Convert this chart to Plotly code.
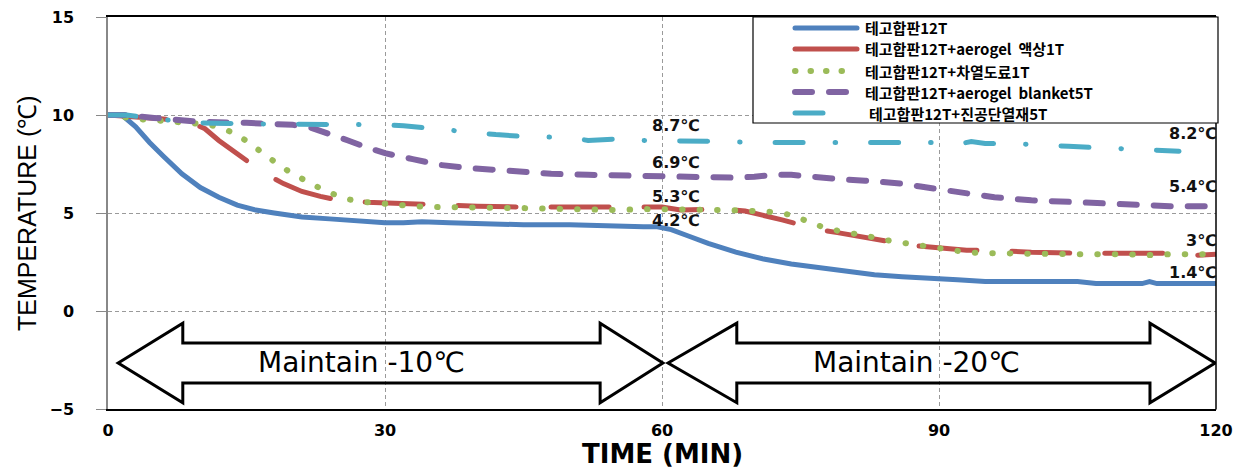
import plotly.graph_objects as go

# ---------------- data ----------------
series_names = [
    "테고합판12T",
    "테고합판12T+aerogel  액상1T",
    "테고합판12T+차열도료1T",
    "테고합판12T+aerogel  blanket5T",
    "테고합판12T+진공단열재5T",
]

t_blue = [0, 1.5, 3, 4.5, 6, 8, 10, 12, 14, 16, 18, 21, 24, 27, 30, 32, 34, 37, 40, 45, 50, 55, 58,
          59.5, 61, 63, 65, 68, 71, 74, 77, 80, 83, 86, 89, 92, 95, 100, 105, 107, 112, 112.8, 113.6, 116, 120]
T_blue = [10, 10, 9.4, 8.6, 7.9, 7.0, 6.3, 5.8, 5.4, 5.15, 5.0, 4.8, 4.7, 4.6, 4.5, 4.5, 4.55, 4.5, 4.45,
          4.4, 4.4, 4.3, 4.3, 4.3, 4.15, 3.8, 3.45, 3.0, 2.65, 2.4, 2.2, 2.0, 1.85, 1.75, 1.7, 1.6, 1.5,
          1.5, 1.5, 1.4, 1.4, 1.5, 1.4, 1.4, 1.4]

t_red = [0, 3, 6, 9, 10.5, 12, 14, 15.5, 17, 19, 21, 23, 25, 28, 31, 35, 40, 45, 50, 55, 58, 60, 62, 65,
         67, 69, 71, 73, 75, 77, 79, 81, 83, 85, 87, 89, 91, 93, 96, 100, 105, 110, 115, 118, 120]
T_red = [10, 9.9, 9.8, 9.6, 9.3, 8.7, 8.0, 7.5, 7.0, 6.5, 6.1, 5.85, 5.65, 5.55, 5.5, 5.4, 5.35, 5.3,
         5.3, 5.25, 5.3, 5.3, 5.15, 5.15, 5.2, 5.1, 4.9, 4.65, 4.4, 4.15, 4.0, 3.85, 3.7, 3.55, 3.35,
         3.27, 3.2, 3.1, 3.1, 3.0, 2.95, 2.95, 2.95, 2.85, 2.9]

t_green = [0, 3, 6, 9, 11, 12.5, 14, 15.5, 17, 18.5, 20, 21.5, 23, 24.5, 26, 28, 30, 33, 36, 40, 45,
           50, 55, 58, 61, 64, 67, 70, 72, 74, 75.5, 77, 79, 81, 83, 85, 87, 89, 91, 93, 95, 100, 105,
           110, 113, 115, 120]
T_green = [10, 9.8, 9.7, 9.6, 9.5, 9.3, 9.0, 8.5, 7.95, 7.45, 7.0, 6.6, 6.25, 5.95, 5.7, 5.55, 5.45,
           5.35, 5.3, 5.3, 5.25, 5.2, 5.15, 5.2, 5.2, 5.2, 5.15, 5.1, 5.05, 4.9, 4.65, 4.35, 4.1, 3.95,
           3.75, 3.55, 3.4, 3.3, 3.15, 3.0, 2.95, 2.9, 2.9, 2.9, 2.85, 2.9, 2.9]

t_purple = [0, 2, 5, 10, 15, 20, 22, 24, 26, 28, 30, 33, 36, 39, 42, 45, 48, 52, 56, 60, 64, 68, 70,
            72, 74, 76, 78, 80, 82, 84, 86, 88, 90, 93, 96, 100, 104, 108, 111, 115, 120]
T_purple = [10, 10, 9.85, 9.65, 9.6, 9.5, 9.35, 9.05, 8.7, 8.35, 8.05, 7.75, 7.45, 7.3, 7.2, 7.1, 7.0,
            6.95, 6.9, 6.85, 6.8, 6.8, 6.85, 6.95, 6.95, 6.85, 6.75, 6.7, 6.65, 6.6, 6.5, 6.35, 6.2,
            6.05, 5.8, 5.65, 5.55, 5.5, 5.4, 5.35, 5.35]

t_cyan = [0, 2, 5, 10, 15, 20, 25, 30, 32, 34, 36, 38, 40, 42, 45, 48, 50, 52, 54, 56, 58, 60, 63, 66,
          70, 75, 80, 85, 90, 92, 93.5, 95, 97, 100, 104, 108, 112, 114, 116]
T_cyan = [10, 10, 9.8, 9.6, 9.55, 9.55, 9.5, 9.5, 9.45, 9.35, 9.25, 9.15, 9.1, 9.0, 8.9, 8.9, 8.85,
          8.7, 8.75, 8.8, 8.7, 8.7, 8.7, 8.65, 8.6, 8.6, 8.6, 8.6, 8.6, 8.5, 8.65, 8.55, 8.55, 8.5, 8.4,
          8.3, 8.25, 8.15, 8.15]

x_ticks = [0, 30, 60, 90, 120]
y_ticks = [-5, 0, 5, 10, 15]

end_labels = ["8.7℃", "6.9℃", "5.3℃", "4.2℃", "8.2℃", "5.4℃", "3℃", "1.4℃"]
phase_labels = ["Maintain -10℃", "Maintain -20℃"]

# ---------------- styles ----------------
colors = ["#4F81BD", "#C0504D", "#9BBB59", "#8064A2", "#4BACC6"]
widths = [5, 5, 6, 6, 5]
dashes = ["solid", "58px,35px", "0.5px,17px", "17px,17px", "28px,32px,0.5px,35px"]

fig = go.Figure()
all_t = [t_blue, t_red, t_green, t_purple, t_cyan]
all_T = [T_blue, T_red, T_green, T_purple, T_cyan]
for name, tt, TT, c, w, d in zip(series_names, all_t, all_T, colors, widths, dashes):
    fig.add_trace(go.Scatter(x=tt, y=TT, mode="lines", name=name,
                             line=dict(color=c, width=w, dash=d), showlegend=False))

# ---------------- layout ----------------
L, R, T, B = 108, 36, 17, 62
W, H = 1252, 471
PW, PH = W - L - R, H - T - B


def px2paper(px, py):
    return (px - L) / PW, (H - B - py) / PH


tick_font = dict(family="DejaVu Sans", size=16, color="black", weight="bold")
fig.update_layout(
    width=W, height=H, autosize=False,
    margin=dict(l=L, r=R, t=T, b=B, autoexpand=False),
    plot_bgcolor="white", paper_bgcolor="white",
    xaxis=dict(range=[0, 120], tickvals=x_ticks, showgrid=True, gridcolor="#9a9a9a",
               griddash="4px,3px", gridwidth=1, zeroline=False, showline=True,
               linecolor="black", linewidth=1.5, mirror=True, ticks="",
               tickfont=tick_font, ticklabelstandoff=6),
    yaxis=dict(range=[-5, 15], tickvals=y_ticks, showgrid=True, gridcolor="#9a9a9a",
               griddash="4px,3px", gridwidth=1, zeroline=False, showline=True,
               linecolor="#888888", linewidth=1.5, ticks="outside", ticklen=10,
               tickcolor="#888888", tickfont=tick_font, ticklabelstandoff=19),
)

shapes = []
# right border
shapes.append(dict(type="line", xref="paper", yref="paper", x0=1, x1=1, y0=0, y1=1,
                   line=dict(color="black", width=1.5)))


def arrow_path(xl, hl, hr, xr, yc, hh, sh):
    return (f"M{xl},{yc} L{hl},{yc+hh} L{hl},{yc+sh} L{hr},{yc+sh} L{hr},{yc+hh} "
            f"L{xr},{yc} L{hr},{yc-hh} L{hr},{yc-sh} L{hl},{yc-sh} L{hl},{yc-hh} Z")


yc, hh, sh = -2.65, 2.03, 1.02
shapes.append(dict(type="path", xref="x", yref="y",
                   path=arrow_path(1.1, 8.1, 53.3, 60.1, yc, hh, sh),
                   line=dict(color="black", width=3)))
shapes.append(dict(type="path", xref="x", yref="y",
                   path=arrow_path(60.65, 68.1, 112.85, 119.9, yc, hh, sh),
                   line=dict(color="black", width=3)))

# custom legend box
lx0, ly0 = px2paper(753, 123)
lx1, ly1 = px2paper(1218, 17)
shapes.append(dict(type="rect", xref="paper", yref="paper", x0=lx0, x1=lx1, y0=ly0, y1=ly1,
                   line=dict(color="black", width=1.2), fillcolor="white"))
leg_y = [28, 49, 71, 92, 113]
leg_x_end = [857, 857, 857, 857, 828]
annotations = []
for i in range(5):
    xa, ya = px2paper(795, leg_y[i])
    xb, _ = px2paper(leg_x_end[i], leg_y[i])
    shapes.append(dict(type="line", xref="paper", yref="paper", x0=xa, x1=xb, y0=ya, y1=ya,
                       line=dict(color=colors[i], width=widths[i],
                                 dash="solid" if i < 2 else ("0.5px,15px" if i == 2 else dashes[i]))))
    xt, _ = px2paper(864 if i < 4 else 868, leg_y[i])
    annotations.append(dict(xref="paper", yref="paper", x=xt, y=ya, text=series_names[i],
                            showarrow=False, xanchor="left", yanchor="middle", borderpad=0,
                            font=dict(family="Noto Sans CJK KR", size=15, color="black",
                                      weight="bold")))

# value labels
lab_font = dict(family="DejaVu Sans", size=16, color="#111111", weight="bold")
left_lab_y = [9.49, 7.6, 5.82, 4.64]
right_lab_y = [9.08, 6.33, 3.62, 1.99]
for i in range(4):
    annotations.append(dict(x=58.7, y=left_lab_y[i], xref="x", yref="y", text=end_labels[i],
                            showarrow=False, xanchor="left", yanchor="middle", font=lab_font))
    annotations.append(dict(x=120, y=right_lab_y[i], xref="x", yref="y", text=end_labels[4 + i],
                            showarrow=False, xanchor="right", yanchor="middle", xshift=3,
                            font=lab_font))

# phase texts
ph_font = dict(family="DejaVu Sans", size=28, color="black")
annotations.append(dict(x=27.5, y=yc, xref="x", yref="y", text=phase_labels[0], showarrow=False,
                        xanchor="center", yanchor="middle", font=ph_font))
annotations.append(dict(x=87.6, y=yc, xref="x", yref="y", text=phase_labels[1], showarrow=False,
                        xanchor="center", yanchor="middle", font=ph_font))

# axis titles
ytx, _ = px2paper(27, 0)
annotations.append(dict(xref="paper", yref="paper", x=ytx, y=0.5, text="TEMPERATURE (℃)",
                        textangle=-90, showarrow=False, xanchor="center", yanchor="middle",
                        font=dict(family="Liberation Sans", size=25, color="black")))
_, xty = px2paper(0, 470)
annotations.append(dict(xref="paper", yref="paper", x=0.5, y=xty, text="TIME (MIN)",
                        showarrow=False, xanchor="center", yanchor="bottom", borderpad=0,
                        font=dict(family="DejaVu Sans", size=26, color="black", weight="bold")))

fig.update_layout(shapes=shapes, annotations=annotations)

post = ("document.body.style.margin='0';document.body.style.overflow='hidden';"
        "var s=document.createElement('style');"
        "s.textContent='body{margin:0} .scatterlayer .js-line{stroke-linecap:round} .shapelayer path{stroke-linecap:round}';"
        "document.head.appendChild(s);")
fig.write_html("out.html", post_script=post, config={"displayModeBar": False})
